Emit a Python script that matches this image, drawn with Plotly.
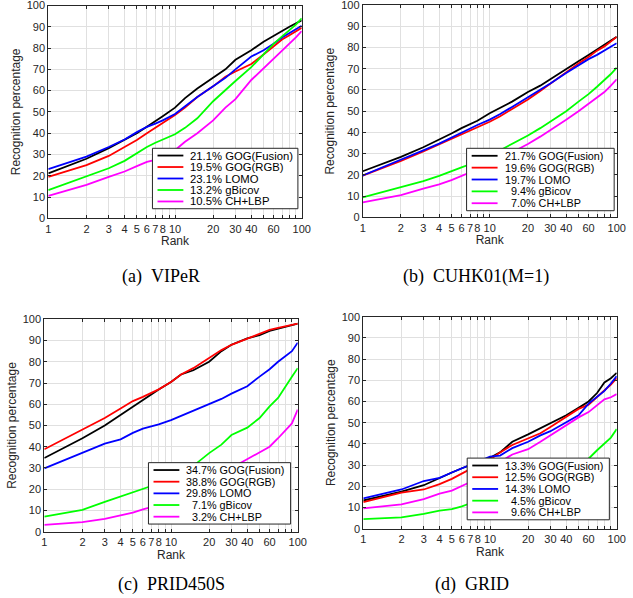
import plotly.graph_objects as go

W, H = 633, 598

RANKS = [1, 2, 3, 4, 5, 6, 7, 8, 10, 12, 15, 20, 25, 30, 40, 50, 60, 70, 80, 90, 100]

METHODS = ["GOG(Fusion)", "GOG(RGB)", "LOMO", "gBicov", "CH+LBP"]
COLORS = ["#000000", "#ff0000", "#0000ff", "#00ff00", "#ff00ff"]

# (a) VIPeR
VIPER_FUSION = [21.1, 28, 33, 37, 40, 43, 45.5, 48, 52, 56.5, 61, 66, 70, 74.5, 79, 83, 85.5, 88, 90, 91.5, 93]
VIPER_RGB = [19.5, 25, 29.3, 33.5, 36.8, 40, 42.5, 44.5, 48.5, 52, 57, 62, 66.5, 69, 72.5, 77, 81, 84, 86, 88, 89.5]
VIPER_LOMO = [23.1, 29, 33.5, 37, 40.5, 43, 44.5, 46, 49, 52.5, 57, 62, 66, 70, 76, 79, 82, 85, 87, 89, 90.5]
VIPER_GBICOV = [13.2, 19.5, 23.5, 27, 30.5, 33.5, 35.5, 37, 39.5, 42.5, 47, 55, 60, 64.5, 71, 77, 82, 85.5, 88.5, 91, 94]
VIPER_CHLBP = [10.5, 15.7, 19.5, 22, 24.5, 26.5, 27.5, 29, 32, 36, 40, 46, 52, 56, 65, 70.5, 75, 79, 82, 85, 88]
VIPER_RANK1 = ["21.1%", "19.5%", "23.1%", "13.2%", "10.5%"]

# (b) CUHK01(M=1)
CUHK_FUSION = [21.7, 28.5, 33, 36.5, 39.5, 42, 44, 45.5, 49, 51.5, 54.5, 59, 62, 65, 70, 73.5, 76.5, 79, 81, 83, 85]
CUHK_RGB = [19.6, 26.5, 31, 34.3, 36.8, 39, 41, 42.5, 45, 47.5, 51, 55.5, 59.5, 63, 68.5, 72.5, 75.5, 78.5, 80.5, 83, 85]
CUHK_LOMO = [19.7, 27, 31.5, 34.7, 37.5, 40, 42, 43.5, 46, 48.5, 52, 56.5, 60, 63, 68, 71.5, 74.5, 76.5, 78.5, 80.5, 82]
CUHK_GBICOV = [9.4, 14, 17, 19.5, 21.5, 23.5, 25, 26.5, 29, 31.5, 34.5, 38.5, 42, 45, 50, 54.5, 58, 61.5, 64.5, 67.5, 70.5]
CUHK_CHLBP = [7.0, 10.5, 13.5, 15.5, 17.5, 19.5, 21, 22.5, 25, 27.5, 30.5, 34.5, 38, 41, 46, 50, 53.5, 56.5, 59, 62, 65]
CUHK_RANK1 = ["21.7%", "19.6%", "19.7%", "\u00a0\u00a09.4%", "\u00a0\u00a07.0%"]

# (c) PRID450S
PRID_FUSION = [34.7, 44, 50, 55, 59, 62, 64.5, 67, 70.5, 74, 76, 80, 85, 88, 91, 92.5, 94.5, 95.5, 96.5, 97.2, 98]
PRID_RGB = [38.8, 48, 53.5, 58, 61.5, 63.5, 65.5, 67, 70.5, 74, 77, 82, 85.5, 88, 91, 93, 95, 96, 96.7, 97.3, 98]
PRID_LOMO = [29.8, 37, 41.5, 43.5, 46.5, 48.5, 49.5, 50.5, 52.5, 54.5, 57, 60, 62.5, 65, 68.5, 73, 76.5, 80, 82.5, 85, 89]
PRID_GBICOV = [7.1, 10.3, 14, 16.5, 18.5, 20, 21.5, 23, 25.5, 28, 31, 37, 41, 45.5, 49, 53.5, 59, 63, 68.5, 73, 77]
PRID_CHLBP = [3.2, 4.5, 6, 7.5, 9, 10.5, 11.5, 12.5, 15, 17, 20, 24, 27, 30, 34, 37.5, 40, 44, 48, 51, 57.5]
PRID_RANK1 = ["34.7%", "38.8%", "29.8%", "\u00a0\u00a07.1%", "\u00a0\u00a03.2%"]

# (d) GRID
GRID_FUSION = [13.3, 17.5, 20.5, 24, 26.5, 28.5, 30, 31, 33.5, 36, 41, 44.5, 47.5, 50, 53.5, 57, 60, 64, 69, 71, 73.5]
GRID_RGB = [12.5, 17, 18.5, 21, 23.5, 26, 28, 30, 32.5, 36, 39.5, 42.5, 45, 48, 53, 56.5, 58.5, 62, 65, 68, 71]
GRID_LOMO = [14.3, 18.5, 22.5, 24, 26.5, 28.5, 30, 31.5, 34, 34.5, 38, 41, 44, 46, 50, 53.5, 59, 62, 65, 68.5, 72]
GRID_GBICOV = [4.5, 5.3, 7, 8.5, 9.2, 10.5, 12, 13, 15, 16.5, 18, 20.5, 23, 25, 28, 31, 33, 37, 40, 43, 47]
GRID_CHLBP = [9.6, 11.5, 14, 16.5, 18, 20, 22, 24, 28, 31.5, 35, 37.5, 41, 44, 49, 52.5, 55, 58, 61, 62, 63.5]
GRID_RANK1 = ["13.3%", "12.5%", "14.3%", "\u00a0\u00a04.5%", "\u00a0\u00a09.6%"]

X_TICKVALS = [1, 2, 3, 4, 5, 6, 7, 8, 9, 10, 20, 30, 40, 50, 60, 70, 80, 90, 100]
X_TICKTEXT = ["1", "2", "3", "4", "5", "6", "7", "8", "", "10", "20", "30", "40", "", "60", "", "", "", "100"]
Y_TICKVALS = list(range(0, 101, 10))

CAPTIONS = ["(a)\u00a0\u00a0VIPeR", "(b)\u00a0\u00a0CUHK01(M=1)", "(c)\u00a0\u00a0PRID450S", "(d)\u00a0\u00a0GRID"]


def px_x(p):
    return p / W


def px_y(p):
    return 1 - p / H


# layout geometry (pixels) : left, right, top, bottom of each plot box
BOXES = [
    (48.3, 301.7, 5.5, 218.3),
    (362.7, 616.7, 5.0, 217.3),
    (44.3, 297.7, 319.3, 531.7),
    (363.3, 616.7, 316.7, 528.7),
]
# legend box in axis-domain fractions: x0, x1, y0, y1
LEG_BOXES = [
    (0.411, 0.985, 0.045, 0.329),
    (0.409, 0.990, 0.031, 0.325),
    (0.411, 0.972, 0.036, 0.325),
    (0.410, 0.971, 0.042, 0.333),
]
LEG_FONT = [11.3, 10.8, 10.8, 10.8]
CAPTION_POS = [(160.5, 276), (475.5, 276), (171.7, 584), (471.7, 584)]

PANEL_DATA = [
    ([VIPER_FUSION, VIPER_RGB, VIPER_LOMO, VIPER_GBICOV, VIPER_CHLBP], VIPER_RANK1),
    ([CUHK_FUSION, CUHK_RGB, CUHK_LOMO, CUHK_GBICOV, CUHK_CHLBP], CUHK_RANK1),
    ([PRID_FUSION, PRID_RGB, PRID_LOMO, PRID_GBICOV, PRID_CHLBP], PRID_RANK1),
    ([GRID_FUSION, GRID_RGB, GRID_LOMO, GRID_GBICOV, GRID_CHLBP], GRID_RANK1),
]

AX_COLOR = "#262626"
GRID_COLOR = "#e0e0e0"
FONT = "Liberation Sans, Arial, Helvetica, sans-serif"

fig = go.Figure()
layout = dict(
    width=W, height=H,
    margin=dict(l=0, r=0, t=0, b=0, pad=0),
    paper_bgcolor="white", plot_bgcolor="white",
    showlegend=False,
    font=dict(family=FONT, size=11, color=AX_COLOR),
)
shapes = []
annotations = []

for i, (series, rank1) in enumerate(PANEL_DATA):
    n = "" if i == 0 else str(i + 1)
    xa, ya = "x" + n, "y" + n
    l, r, t, b = BOXES[i]
    for s, vals in enumerate(series):
        fig.add_trace(go.Scatter(
            x=RANKS, y=vals, mode="lines", xaxis=xa, yaxis=ya,
            line=dict(color=COLORS[s], width=1.8),
            name=METHODS[s], hoverinfo="skip",
        ))
    layout["xaxis" + n] = dict(
        type="log", range=[0, 2], domain=[px_x(l), px_x(r)], anchor=ya,
        automargin=False, ticklabeloverflow="allow",
        tickvals=X_TICKVALS, ticktext=X_TICKTEXT,
        ticks="inside", ticklen=3, tickcolor=AX_COLOR, tickwidth=0.8,
        showline=True, linecolor=AX_COLOR, linewidth=1, mirror="ticks",
        showgrid=True, gridcolor=GRID_COLOR, gridwidth=1, zeroline=False,
        tickfont=dict(size=11, color=AX_COLOR), tickangle=0,
        title=dict(text="Rank", font=dict(size=12, color=AX_COLOR), standoff=2),
    )
    layout["yaxis" + n] = dict(
        range=[0, 100], domain=[px_y(b), px_y(t)], anchor=xa,
        automargin=False, ticklabeloverflow="allow",
        tickvals=Y_TICKVALS,
        ticks="inside", ticklen=3, tickcolor=AX_COLOR, tickwidth=0.8,
        showline=True, linecolor=AX_COLOR, linewidth=1, mirror="ticks",
        showgrid=True, gridcolor=GRID_COLOR, gridwidth=1, zeroline=False,
        tickfont=dict(size=11, color=AX_COLOR),
        title=dict(text="Recognition percentage", font=dict(size=12, color=AX_COLOR), standoff=3),
    )
    # legend drawn inside the axes
    x0, x1, y0, y1 = LEG_BOXES[i]
    xd, yd = xa + " domain", ya + " domain"
    shapes.append(dict(type="rect", xref=xd, yref=yd, x0=x0, x1=x1, y0=y0, y1=y1,
                       line=dict(color=AX_COLOR, width=1), fillcolor="white", layer="above"))
    h = y1 - y0
    for s in range(5):
        yy = y1 - h * (0.12 + s * 0.19)
        shapes.append(dict(type="line", xref=xd, yref=yd, x0=x0 + 0.02, x1=x0 + 0.122,
                           y0=yy, y1=yy, line=dict(color=COLORS[s], width=1.8), layer="above"))
        annotations.append(dict(xref=xd, yref=yd, x=x0 + 0.142, y=yy, xanchor="left", yanchor="middle",
                                text=rank1[s] + " " + METHODS[s], showarrow=False,
                                font=dict(size=LEG_FONT[i], color="#000000", family=FONT)))
    cx, cy = CAPTION_POS[i]
    annotations.append(dict(xref="paper", yref="paper", x=px_x(cx), y=px_y(cy), xanchor="center",
                            yanchor="middle", text=CAPTIONS[i], showarrow=False,
                            font=dict(size=18, color="#000000",
                                      family="Liberation Serif, Times New Roman, serif")))

layout["shapes"] = shapes
layout["annotations"] = annotations
fig.update_layout(**layout)
fig.write_html("out.html", config={"displayModeBar": False},
               post_script="document.body.style.margin='0';document.body.style.padding='0';")
